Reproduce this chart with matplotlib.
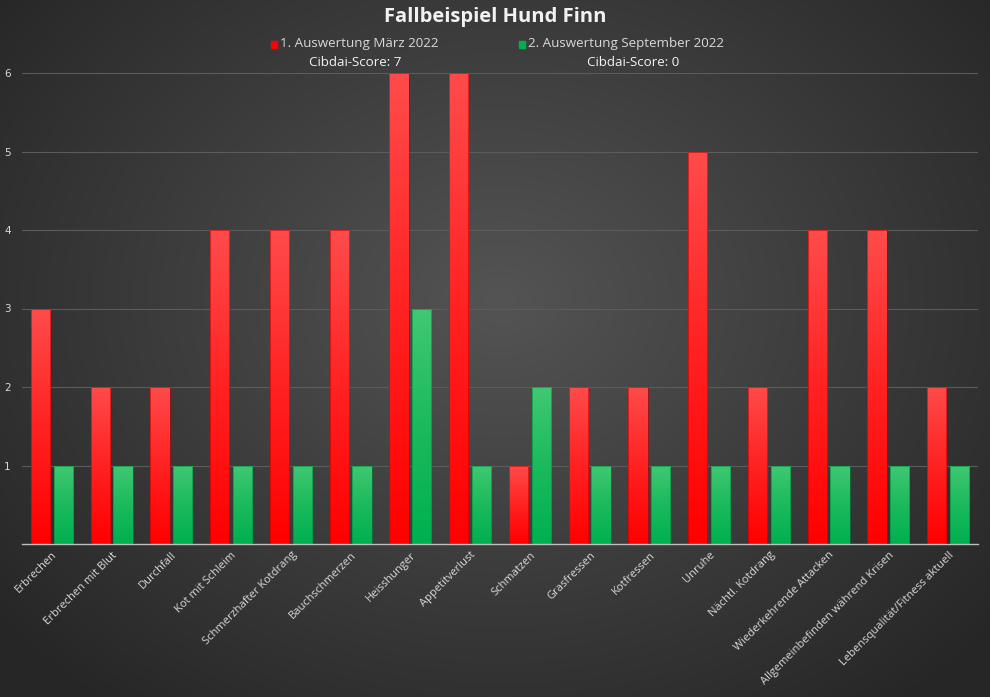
import numpy as np
import matplotlib.pyplot as plt
from matplotlib.colors import LinearSegmentedColormap

# Daten
kategorien = ['Erbrechen', 'Erbrechen mit Blut', 'Durchfall', 'Kot mit Schleim',
              'Schmerzhafter Kotdrang', 'Bauchschmerzen', 'Heisshunger', 'Appetitverlust',
              'Schmatzen', 'Grasfressen', 'Kotfressen', 'Unruhe', 'Nächtl. Kotdrang',
              'Wiederkehrende Attacken', 'Allgemeinbefinden während Krisen',
              'Lebensqualität/Fitness aktuell']
maerz = [3, 2, 2, 4, 4, 4, 6, 6, 1, 2, 2, 5, 2, 4, 4, 2]
september = [1, 1, 1, 1, 1, 1, 3, 1, 2, 1, 1, 1, 1, 1, 1, 1]
serien = ['1. Auswertung März 2022', '2. Auswertung September 2022']
scores = ['Cibdai-Score: 7', 'Cibdai-Score: 0']

W, H = 990, 697
fig = plt.figure(figsize=(W / 100, H / 100), dpi=100)

# Hintergrund mit radialem Verlauf
bg = fig.add_axes([0, 0, 1, 1])
yy, xx = np.mgrid[0:H, 0:W]
r = np.sqrt(((xx - 500) / 650) ** 2 + ((yy - 300) / 520) ** 2)
bg.imshow(np.clip(r, 0, 1), cmap=LinearSegmentedColormap.from_list('bg', ['#545454', '#262626']),
          extent=[0, W, H, 0], aspect='auto', vmin=0, vmax=1)
bg.axis('off')

ax = fig.add_axes([22 / W, 1 - 544 / H, 956 / W, (544 - 73) / H])
ax.patch.set_alpha(0)
ax.set_yticks(range(1, 7))
for y in range(1, 7):
    ax.axhline(y, color='#5c5c5c', lw=0.8, zorder=0)

x = np.arange(len(kategorien))
w = 0.32
off = 0.19

red_cm = LinearSegmentedColormap.from_list('r', ['#ff0000', '#ff2222', '#ff4b4b'])
green_cm = LinearSegmentedColormap.from_list('g', ['#00b050', '#1cba5c', '#40c872'])
grad = np.linspace(0, 1, 100).reshape(-1, 1) * np.ones((1, 10))

def draw_bars(pos, vals, cmap, edge):
    bars = ax.bar(pos, vals, w, color='none', edgecolor=edge, lw=0.4, zorder=3)
    for b in bars:
        x0, y0 = b.get_x(), b.get_y()
        bw, bh = b.get_width(), b.get_height()
        im = ax.imshow(grad, cmap=cmap, extent=[x0, x0 + bw, y0, y0 + bh],
                       origin='lower', aspect='auto', zorder=2)
        im.set_clip_path(b)

draw_bars(x - off, maerz, red_cm, '#c00000')
draw_bars(x + off, september, green_cm, '#008a40')
ax.set_xlim(-0.5, len(kategorien) - 0.5)
ax.set_ylim(0, 6)

ax.set_xticks(x)
ax.set_xticklabels(kategorien, rotation=45, ha='right', rotation_mode='anchor',
                   fontsize=8, color='#d9d9d9', family='Open Sans')
ax.tick_params(axis='x', length=0, pad=4)
ax.tick_params(axis='y', length=0, pad=8, labelsize=7.5, labelcolor='#d9d9d9')
for s in ['top', 'right', 'left']:
    ax.spines[s].set_visible(False)
ax.spines['bottom'].set_color('#bfbfbf')
ax.spines['bottom'].set_linewidth(1)

# Titel und Legende
fig.text(495 / W, 1 - 17 / H, 'Fallbeispiel Hund Finn', ha='center', va='center',
         fontsize=14.5, fontweight='bold', color='#f2f2f2', family='Open Sans')
legend_x = [280, 528]
farben = ['#ff0000', '#00b050']
score_x = [355, 633]
for lx, farbe, name, sx, sc in zip(legend_x, farben, serien, score_x, scores):
    fig.patches.append(plt.Rectangle(((lx - 9) / W, 1 - 48 / H), 6 / W, 7 / H,
                                     transform=fig.transFigure, color=farbe))
    fig.text(lx / W, 1 - 44 / H, name, ha='left', va='center', fontsize=9.6,
             color='#d9d9d9', family='Open Sans')
    fig.text(sx / W, 1 - 62 / H, sc, ha='center', va='center', fontsize=9.6,
             color='#f2f2f2', family='Open Sans')

fig.savefig('out.png', dpi=100)
